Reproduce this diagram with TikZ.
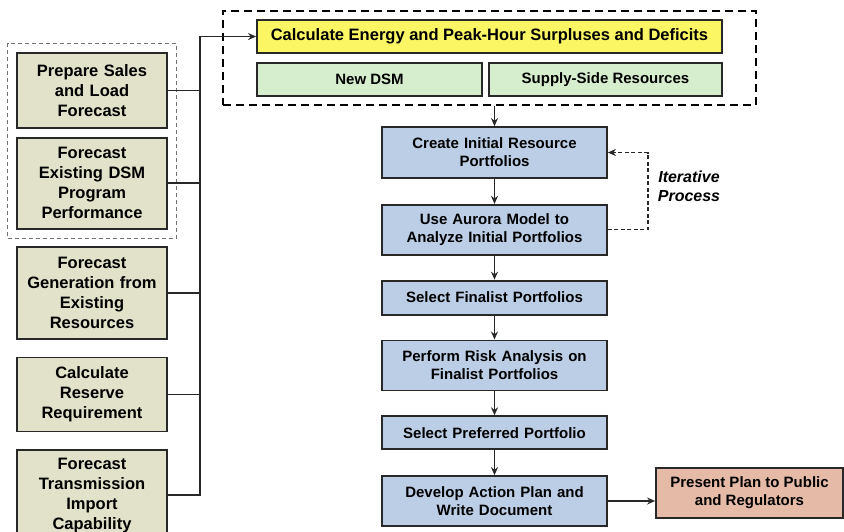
\documentclass[tikz,border=0pt]{standalone}
\usepackage{fontspec}
\setmainfont{Liberation Sans}
\usepackage{tikz}
\usetikzlibrary{arrows.meta, positioning, fit}
\definecolor{boxline}{RGB}{40,40,40}
\definecolor{inputtan}{RGB}{226,226,202}
\definecolor{calcyellow}{RGB}{250,246,100}
\definecolor{resgreen}{RGB}{214,238,206}
\definecolor{stepblue}{RGB}{188,205,230}
\definecolor{outpink}{RGB}{229,186,166}

\begin{document}
\begin{tikzpicture}[x=1pt, y=-1pt,
  inbox/.style={rectangle, draw=boxline, line width=1.8pt, fill=inputtan,
                text width=146pt, inner sep=2pt, align=center,
                font=\fontsize{16.5}{20}\selectfont\bfseries},
  stepbox/.style={rectangle, draw=boxline, line width=1.8pt, fill=stepblue,
                  text width=221pt, inner sep=2pt, align=center,
                  font=\fontsize{15}{18}\selectfont\bfseries},
  resbox/.style={rectangle, draw=boxline, line width=1.8pt, fill=resgreen,
                 minimum height=33pt, inner sep=2pt, align=center,
                 font=\fontsize{15}{18}\selectfont\bfseries},
  group/.style={draw, dashed, inner ysep=8.5pt},
  arrow/.style={-{Stealth[length=8pt, width=7pt]}, line width=1.8pt, boxline},
  link/.style={line width=1.8pt, boxline}
]
\useasboundingbox (0,0) rectangle (844,531);

\node[inbox, minimum height=75pt] (sales) at (92,90.5)
      {Prepare Sales\\and Load\\Forecast};
\node[inbox, minimum height=91pt, below=8pt of sales] (dsmperf)
      {Forecast\\Existing DSM\\Program\\Performance};
\node[inbox, minimum height=92pt, below=16pt of dsmperf] (gen)
      {Forecast\\Generation from\\Existing\\Resources};
\node[inbox, minimum height=74pt, below=17pt of gen] (reserve)
      {Calculate\\Reserve\\Requirement};
\node[inbox, minimum height=90pt, below=17pt of reserve] (trans)
      {Forecast\\Transmission\\Import\\Capability};
\node[group, draw=boxline!65, line width=1.3pt, dash pattern=on 4pt off 3pt,
      inner xsep=8.5pt, fit=(sales)(dsmperf)] (ingroup) {};

\node[rectangle, draw=boxline, line width=1.8pt, fill=calcyellow,
      minimum width=465pt, minimum height=33pt,
      font=\fontsize{16.5}{20}\selectfont\bfseries] (calc) at (489.5,36.5)
      {Calculate Energy and Peak-Hour Surpluses and Deficits};
\node[resbox, minimum width=225pt, below right=8pt and 0pt of calc.south west] (newdsm)
      {New DSM};
\node[resbox, minimum width=233pt, below left=8pt and 0pt of calc.south east] (supply)
      {Supply-Side Resources};
\node[group, draw=black, line width=2pt, dash pattern=on 8pt off 5pt,
      inner xsep=33pt, fit=(calc)(newdsm)(supply)] (topgroup) {};

\node[stepbox, minimum height=51pt] (create) at (494.5,152.5)
      {Create Initial Resource\\Portfolios};
\node[stepbox, minimum height=50pt, below=25pt of create] (aurora)
      {Use Aurora Model to\\Analyze Initial Portfolios};
\node[stepbox, minimum height=34pt, below=24pt of aurora] (finalist)
      {Select Finalist Portfolios};
\node[stepbox, minimum height=50pt, below=24pt of finalist] (risk)
      {Perform Risk Analysis on\\Finalist Portfolios};
\node[stepbox, minimum height=33pt, below=24pt of risk] (preferred)
      {Select Preferred Portfolio};
\node[stepbox, minimum height=50pt, below=25pt of preferred] (action)
      {Develop Action Plan and\\Write Document};
\node[rectangle, draw=boxline, line width=1.8pt, fill=outpink,
      minimum width=187pt, minimum height=50pt, align=center,
      font=\fontsize{15}{18}\selectfont\bfseries] (present) at (749.5,493)
      {Present Plan to Public\\and Regulators};
\node[font=\fontsize{16}{19}\selectfont\bfseries\itshape, align=center] (iter) at (689,186)
      {Iterative\\Process};

\coordinate (bus) at (200,36.5);
\draw[arrow] (trans.east) -| (bus) -- (calc.west);
\foreach \n in {sales, dsmperf, gen, reserve}
  \draw[link] (\n.east) -- (\n.east -| bus);

\draw[arrow] (topgroup.south -| create.north) -- (create.north);
\draw[arrow] (create) -- (aurora);
\draw[arrow] (aurora) -- (finalist);
\draw[arrow] (finalist) -- (risk);
\draw[arrow] (risk) -- (preferred);
\draw[arrow] (preferred) -- (action);
\draw[arrow] (action.east) -- (action.east -| present.west);
\draw[arrow, line width=1.3pt, dash pattern=on 4pt off 2.5pt]
     (aurora.east) -- ++(40,0) |- (create.east);
\end{tikzpicture}
\end{document}
